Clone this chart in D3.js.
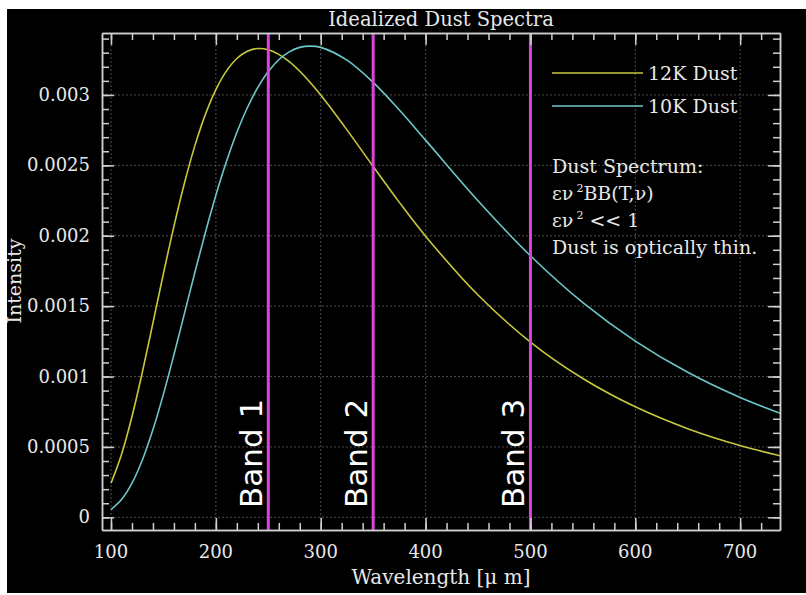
<!DOCTYPE html>
<html>
<head>
<meta charset="utf-8">
<script src="https://cdn.jsdelivr.net/npm/d3@7"></script>
<style>
	body { margin: 0; background: #fff; }
	svg text, svg tspan { font-family: "DejaVu Serif", serif; fill: #e8e8e8; }
</style>
</head>
<body>
<div id="graphicContainer"></div>
<script>
// wavelengths in microns, intensities
var wavelength = [100, 110, 120, 130, 140, 150, 160, 170, 180, 190, 200, 210, 220, 230, 240, 250, 260, 270, 280, 290, 300, 325, 350, 375, 400, 450, 500, 550, 600, 650, 700, 750]
var dust12K = [0.000242, 0.000446, 0.000716, 0.001035, 0.001381, 0.001732, 0.002067, 0.002373, 0.002640, 0.002862, 0.003038, 0.003169, 0.003259, 0.003311, 0.003330, 0.003321, 0.003288, 0.003236, 0.003168, 0.003088, 0.002999, 0.002752, 0.002492, 0.002237, 0.001997, 0.001579, 0.001245, 0.000986, 0.000785, 0.000630, 0.000510, 0.000416]
var dust10K = [0.000055, 0.000126, 0.000243, 0.000409, 0.000623, 0.000875, 0.001155, 0.001447, 0.001741, 0.002023, 0.002287, 0.002525, 0.002733, 0.002909, 0.003054, 0.003166, 0.003250, 0.003306, 0.003338, 0.003347, 0.003338, 0.003247, 0.003089, 0.002893, 0.002679, 0.002248, 0.001858, 0.001525, 0.001252, 0.001030, 0.000851, 0.000706]
var bands = [250, 350, 500]
var bandLabels = ["Band 1", "Band 2", "Band 3"]
var xTicks = [100, 200, 300, 400, 500, 600, 700]
var yTicks = [0, 0.0005, 0.001, 0.0015, 0.002, 0.0025, 0.003]
var yTickLabels = ["0", "0.0005", "0.001", "0.0015", "0.002", "0.0025", "0.003"]
var seriesNames = ["12K Dust", "10K Dust"]
var annotation = ["Dust Spectrum:", "εν|2|BB(T,ν)", "εν|2| << 1", "Dust is optically thin."]

var width = 806, height = 595
var colors = ["#c8c83c", "#6cc8c8"]
var frame = {left: 102, right: 780, top: 33, bottom: 530}

var svg = d3.select("#graphicContainer").append("svg")
	.attr("width", width)
	.attr("height", height)

svg.append("rect")
	.attr("x", 7).attr("y", 9)
	.attr("width", width - 7).attr("height", 584)
	.attr("fill", "#000")

var x = d3.scaleLinear().domain([91.4, 738]).range([frame.left, frame.right])
var y = d3.scaleLinear().domain([-0.00009, 0.00344]).range([frame.bottom, frame.top])

svg.append("clipPath").attr("id", "clip")
	.append("rect")
	.attr("x", frame.left).attr("y", frame.top)
	.attr("width", frame.right - frame.left).attr("height", frame.bottom - frame.top)

// grid
var grid = svg.append("g")
grid.selectAll(".gx").data(xTicks).enter().append("line")
	.attr("x1", d => x(d)).attr("x2", d => x(d))
	.attr("y1", frame.top).attr("y2", frame.bottom)
grid.selectAll(".gy").data(yTicks).enter().append("line")
	.attr("x1", frame.left).attr("x2", frame.right)
	.attr("y1", d => y(d)).attr("y2", d => y(d))
grid.selectAll("line")
	.attr("stroke", "#4e4e4e")
	.attr("stroke-width", 1)
	.attr("stroke-dasharray", "2,2")

// curves
var line = d3.line()
	.x(function(d) { return x(d[0]) })
	.y(function(d) { return y(d[1]) })
	.curve(d3.curveCatmullRom)

var curves = svg.append("g").attr("clip-path", "url(#clip)")
;[dust12K, dust10K].forEach(function(series, i) {
	curves.append("path")
		.datum(wavelength.map(function(w, j) { return [w, series[j]] }))
		.attr("d", line)
		.attr("fill", "none")
		.attr("stroke", colors[i])
		.attr("stroke-width", 1.6)
})

// bands
bands.forEach(function(b, i) {
	svg.append("line")
		.attr("x1", x(b)).attr("x2", x(b))
		.attr("y1", frame.top).attr("y2", frame.bottom)
		.attr("stroke", "#d845d8")
		.attr("stroke-width", 3)
	svg.append("text")
		.attr("transform", "translate(" + (x(b) - 6) + ",508) rotate(-90)")
		.style("font-family", "'DejaVu Sans', sans-serif")
		.style("font-size", "31px")
		.style("fill", "#fff")
		.text(bandLabels[i])
})

// axes with inward ticks on all sides
var xMinor = d3.range(100, 740, 20)
var yMinor = d3.range(0, 35).map(function(d) { return d * 0.0001 })

function addAxis(axis, transform) {
	svg.append("g").attr("transform", transform).call(axis)
		.call(function(g) {
			g.selectAll("path, line").attr("stroke", "#d0d0d0").attr("stroke-width", 1.5)
			g.selectAll("text").remove()
		})
}

addAxis(d3.axisBottom(x).tickValues(xMinor).tickSize(-7).tickSizeOuter(0), "translate(0," + frame.bottom + ")")
addAxis(d3.axisBottom(x).tickValues(xTicks).tickSize(-12).tickSizeOuter(0), "translate(0," + frame.bottom + ")")
addAxis(d3.axisTop(x).tickValues(xMinor).tickSize(-7).tickSizeOuter(0), "translate(0," + frame.top + ")")
addAxis(d3.axisTop(x).tickValues(xTicks).tickSize(-12).tickSizeOuter(0), "translate(0," + frame.top + ")")
addAxis(d3.axisLeft(y).tickValues(yMinor).tickSize(-7).tickSizeOuter(0), "translate(" + frame.left + ",0)")
addAxis(d3.axisLeft(y).tickValues(yTicks).tickSize(-12).tickSizeOuter(0), "translate(" + frame.left + ",0)")
addAxis(d3.axisRight(y).tickValues(yMinor).tickSize(-7).tickSizeOuter(0), "translate(" + frame.right + ",0)")
addAxis(d3.axisRight(y).tickValues(yTicks).tickSize(-12).tickSizeOuter(0), "translate(" + frame.right + ",0)")

// tick labels
svg.selectAll(".xl").data(xTicks).enter().append("text")
	.attr("x", d => x(d)).attr("y", 558)
	.attr("text-anchor", "middle")
	.style("font-size", "18px")
	.text(d => d)

svg.selectAll(".yl").data(yTicks).enter().append("text")
	.attr("x", 90).attr("y", d => y(d) + 6)
	.attr("text-anchor", "end")
	.style("font-size", "18px")
	.text((d, i) => yTickLabels[i])

// titles
svg.append("text")
	.attr("x", (frame.left + frame.right) / 2).attr("y", 26)
	.attr("text-anchor", "middle")
	.style("font-size", "19.5px")
	.text("Idealized Dust Spectra")

svg.append("text")
	.attr("x", (frame.left + frame.right) / 2).attr("y", 584)
	.attr("text-anchor", "middle")
	.style("font-size", "20px")
	.text("Wavelength [μ m]")

svg.append("text")
	.attr("transform", "translate(21,281) rotate(-90)")
	.attr("text-anchor", "middle")
	.style("font-size", "19px")
	.text("Intensity")

// legend
seriesNames.forEach(function(name, i) {
	var ly = 73 + i * 33
	svg.append("line")
		.attr("x1", 552).attr("x2", 643)
		.attr("y1", ly).attr("y2", ly)
		.attr("stroke", colors[i])
		.attr("stroke-width", 1.6)
	svg.append("text")
		.attr("x", 648).attr("y", ly + 7)
		.style("font-size", "19px")
		.text(name)
})

// annotation
annotation.forEach(function(row, i) {
	var t = svg.append("text")
		.attr("x", 552).attr("y", 173 + i * 27)
		.style("font-size", "19px")
	row.split("|").forEach(function(part, j) {
		var span = t.append("tspan").text(part)
		if (j == 1) {
			span.attr("dx", 3).attr("dy", -8).style("font-size", "11px")
		}
		if (j == 2) {
			span.attr("dy", 8)
		}
	})
})
</script>
</body>
</html>
